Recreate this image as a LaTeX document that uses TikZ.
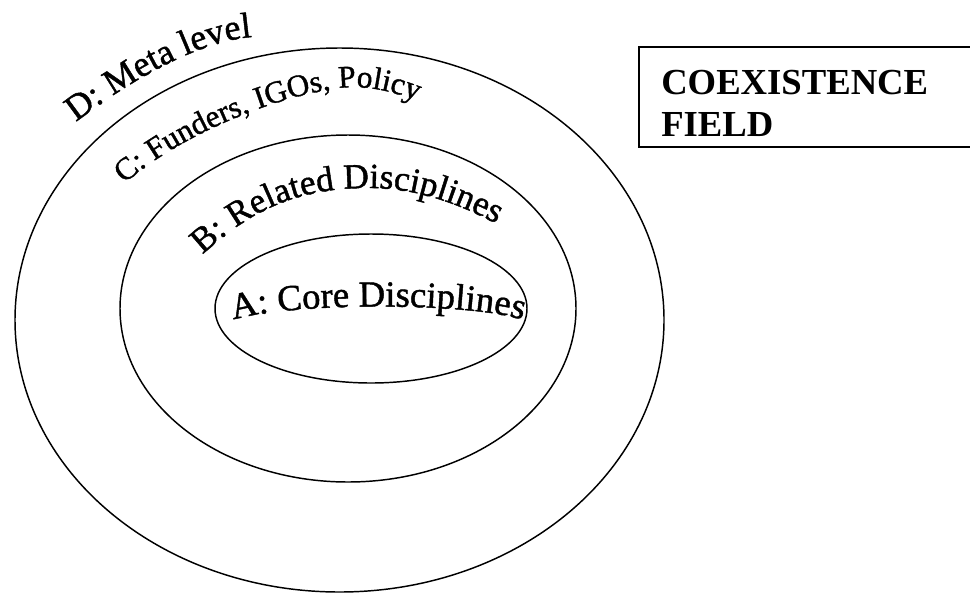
\documentclass[tikz,border=0pt]{standalone}
\usepackage{fontspec}
\setmainfont{Liberation Serif}
\newfontfamily\wafont[FakeBold=1.2]{Liberation Serif}
\usetikzlibrary{decorations.text}
\tikzset{
  ring/.style={draw=black, line width=1.1pt},
  arctext/.style={decorate, decoration={text along path, text align=center}},
  boxline/.style={draw=black, line width=1.5pt},
  boxtext/.style={anchor=base west, inner sep=0pt, font=\bfseries\fontsize{27.5}{27.5}\selectfont}
}
\begin{document}
\begin{tikzpicture}[x={(0.75pt,0)}, y={(0,-0.75pt)}]
\useasboundingbox (0,0) rectangle (970,593);
\clip (0,0) rectangle (970,593);
% rings
\draw[ring] (339.5,320) ellipse [x radius=324.5, y radius=272];
\draw[ring] (348,308.5) ellipse [x radius=228, y radius=173.5];
\draw[ring] (371,308.5) ellipse [x radius=156, y radius=74.5];
% curved labels
\path[arctext, decoration={text={|\wafont\fontsize{27}{27}\selectfont|D: Meta level}}]
  (76,122) .. controls (115,92) and (190,42) .. (252,37);
\path[arctext, decoration={text={|\wafont\fontsize{23.5}{23.5}\selectfont|C: Funders, IGOs, Policy}}]
  (122,186) .. controls (173.5,138.6) and (270.6,97.1) .. (340,88)
  .. controls (366.8,84.5) and (395,92) .. (420,102);
\path[arctext, decoration={text={|\wafont\fontsize{26.5}{26.5}\selectfont|B: Related Disciplines}}]
  (202,255) .. controls (253.7,207.8) and (300,188) .. (370,188)
  .. controls (415,188) and (457,203) .. (497,224);
\path[arctext, decoration={text={|\wafont\fontsize{27.5}{27.5}\selectfont|A: Core Disciplines}}]
  (233,320) .. controls (290,302) and (470,302) .. (523,320);
% coexistence box
\draw[boxline] (985,47) -- (639,47) -- (639,147) -- (985,147);
\node[boxtext] (coex1) at (661,94) {COEXISTENCE};
\node[boxtext] (coex2) at (661,136) {FIELD};
\end{tikzpicture}
\end{document}
